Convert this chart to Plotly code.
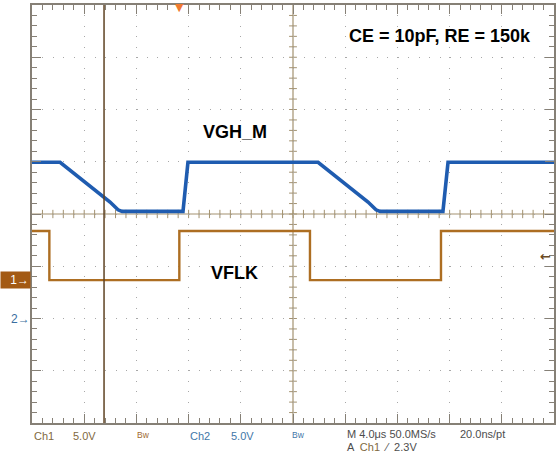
import plotly.graph_objects as go

# ---- data (time in microseconds, voltages in volts) ----
ch1_time = [0, 1.33, 1.33, 11.29, 11.29, 21.30, 21.30, 31.34, 31.34, 40]
ch1_volt = [4.7, 4.7, 0.0, 0.0, 4.7, 4.7, 0.0, 0.0, 4.7, 4.7]

ch2_time = [0, 2.15, 5.98, 6.59, 6.90, 11.57, 11.95, 21.92, 25.75, 26.36, 26.67, 31.49, 31.88, 40]
ch2_volt = [15.0, 15.0, 11.2, 10.45, 10.3, 10.3, 15.0, 15.0, 11.2, 10.45, 10.3, 10.3, 15.0, 15.0]

cursor_t = 5.52        # vertical cursor (us)
trigger_t = 11.3       # trigger position (us)
trigger_level = 2.3    # V on Ch1

volts_per_div = 5.0
ch1_offset_div = -1.265   # ground position of Ch1 (divisions from center)
ch2_offset_div = -2.01    # ground position of Ch2

labels_bottom = ["Ch1", "5.0V", "Bw", "Ch2", "5.0V", "Bw", "M 4.0\u03bcs 50.0MS/s", "20.0ns/pt"]

W, H = 556, 453
L, R, T, B = 32, 2, 5, 30
PW, PH = W - L - R, H - T - B


def px(xp):
    return (xp - L) / PW


def py(yp):
    return (H - B - yp) / PH


def to_div(volts, offset):
    return [v / volts_per_div + offset for v in volts]


BLUE = "#1f5cb0"
ORANGE = "#ad6e22"
BORDER = "#868076"
CENTER = "#a39270"
GRID = "#a8a8a8"

fig = go.Figure()

fig.add_trace(go.Scatter(x=ch1_time, y=to_div(ch1_volt, ch1_offset_div), mode="lines",
                         line=dict(color=ORANGE, width=2.4), showlegend=False, hoverinfo="skip"))
fig.add_trace(go.Scatter(x=ch2_time, y=to_div(ch2_volt, ch2_offset_div), mode="lines",
                         line=dict(color=BLUE, width=3.6), showlegend=False, hoverinfo="skip"))

fig.update_layout(
    width=W, height=H,
    margin=dict(l=L, r=R, t=T, b=B, autoexpand=False),
    paper_bgcolor="white", plot_bgcolor="white",
    showlegend=False,
    xaxis=dict(range=[0, 40], dtick=4, tick0=0, showticklabels=False, zeroline=False, fixedrange=True,
               showgrid=True, gridcolor=GRID, griddash="1px,9.44px", gridwidth=1,
               showline=True, linecolor=BORDER, linewidth=1.5, mirror="ticks",
               ticks="inside", ticklen=9, tickcolor=BORDER, tickwidth=1,
               minor=dict(dtick=0.8, ticks="inside", ticklen=5, tickcolor=BORDER, showgrid=False)),
    yaxis=dict(range=[-4, 4], dtick=1, tick0=-4, showticklabels=False, zeroline=False, fixedrange=True,
               showgrid=True, gridcolor=GRID, griddash="1px,9.45px", gridwidth=1,
               showline=True, linecolor=BORDER, linewidth=1.5, mirror="ticks",
               ticks="inside", ticklen=9, tickcolor=BORDER, tickwidth=1,
               minor=dict(dtick=0.2, ticks="inside", ticklen=5, tickcolor=BORDER, showgrid=False)),
)

shapes = []
# center graticule lines with small ticks
shapes.append(dict(type="line", xref="x", yref="y", x0=0, x1=40, y0=0, y1=0, layer="below",
                   line=dict(color=CENTER, width=1.2)))
shapes.append(dict(type="line", xref="x", yref="y", x0=20, x1=20, y0=-4, y1=4, layer="below",
                   line=dict(color=CENTER, width=1.2)))
for i in range(1, 50):
    xt = i * 0.8
    shapes.append(dict(type="line", xref="x", yref="y", x0=xt, x1=xt, y0=-0.08, y1=0.08, layer="below",
                       line=dict(color=CENTER, width=1)))
for i in range(1, 40):
    yt = -4 + i * 0.2
    shapes.append(dict(type="line", xref="x", yref="y", x0=19.7, x1=20.3, y0=yt, y1=yt, layer="below",
                       line=dict(color=CENTER, width=1)))
# cursor line
shapes.append(dict(type="line", xref="x", yref="paper", x0=cursor_t, x1=cursor_t, y0=0, y1=1,
                   line=dict(color="#5e4222", width=1.5)))
fig.update_layout(shapes=shapes)

ann = []
bold = dict(family="Liberation Sans, Arial, sans-serif", size=18, color="black")
ann.append(dict(text="<b>VGH_M</b>", x=px(234.5), y=py(132), xref="paper", yref="paper",
                xanchor="center", yanchor="middle", showarrow=False, font=bold))
ann.append(dict(text="<b>VFLK</b>", x=px(234.5), y=py(273), xref="paper", yref="paper",
                xanchor="center", yanchor="middle", showarrow=False, font=bold))
ann.append(dict(text="<b>CE = 10pF, RE = 150k</b>", x=px(439.5), y=py(36), xref="paper", yref="paper",
                xanchor="center", yanchor="middle", showarrow=False, font=bold))

# channel ground markers
ann.append(dict(text="1\u2192", x=px(0), y=ch1_offset_div, xref="paper", yref="y", xanchor="left",
                yanchor="middle", showarrow=False, bgcolor="#a35a14", width=27, height=14, align="right",
                borderpad=1, font=dict(family="Liberation Sans, Arial", size=12, color="white")))
ann.append(dict(text="2\u2192", x=px(32), y=ch2_offset_div, xref="paper", yref="y", xanchor="right",
                yanchor="middle", showarrow=False,
                font=dict(family="Liberation Sans, Arial", size=12, color="#3a6ea0")))
# trigger level arrow
ann.append(dict(text="<b>\u2190</b>", x=px(553), y=trigger_level / volts_per_div + ch1_offset_div,
                xref="paper", yref="y", xanchor="right", yanchor="middle", showarrow=False,
                font=dict(family="DejaVu Sans, Arial", size=13, color="#6a4a22")))
# trigger position marker
ann.append(dict(text="\u25bc", x=trigger_t, y=py(7), xref="x", yref="paper", xanchor="center",
                yanchor="middle", showarrow=False,
                font=dict(family="DejaVu Sans, Arial", size=11, color="#f07a30")))

# bottom status text
c1 = "#80693e"
c2 = "#3f77a8"
cg = "#4d4d4d"
small = "Liberation Sans Narrow, Liberation Sans, Arial"
bottom = [
    (labels_bottom[0], 33, 436, c1, 11),
    (labels_bottom[1], 72, 436, c1, 11),
    (labels_bottom[2], 136, 435, "#a06a30", 8.5),
    (labels_bottom[3], 189, 436, c2, 11),
    (labels_bottom[4], 230, 436, c2, 11),
    (labels_bottom[5], 291, 435, c2, 8.5),
    (labels_bottom[6], 346, 434, cg, 11),
    (labels_bottom[7], 459, 434, cg, 11),
    ("A  <span style='color:%s'>Ch1</span>  \u2044  2.3V" % c1, 346, 447, cg, 11),
]
for txt, xx, yy, col, sz in bottom:
    ann.append(dict(text=txt, x=px(xx), y=py(yy), xref="paper", yref="paper", xanchor="left",
                    yanchor="middle", showarrow=False, borderpad=0,
                    font=dict(family=small, size=sz, color=col)))

fig.update_layout(annotations=ann)

fig.write_html("out.html", config={"displayModeBar": False},
               post_script="document.body.style.margin='0';document.body.style.overflow='hidden';")
